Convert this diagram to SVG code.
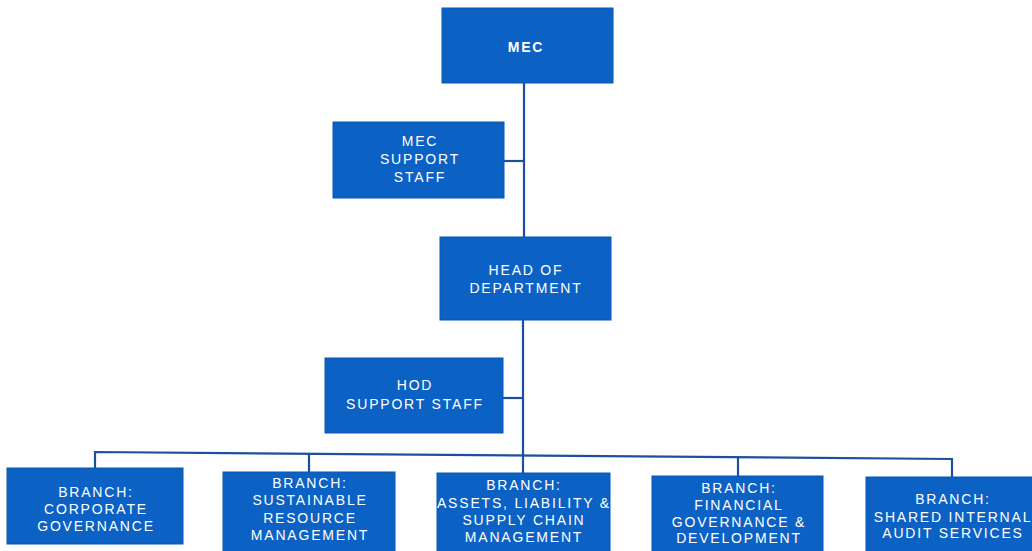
<svg xmlns="http://www.w3.org/2000/svg" width="1032" height="551" viewBox="0 0 1032 551">
<style>
.box{fill:#0b62c4;stroke:#0a57ad;stroke-width:1}
.t{font-family:"Liberation Sans",Arial,sans-serif;font-size:14px;fill:#ffffff;text-anchor:middle;letter-spacing:1.8px}
.b{font-weight:bold}
.c{fill:none;stroke:#1d4f9c;stroke-width:2.2}
</style>
<rect width="1032" height="551" fill="#ffffff"/>
<g id="connectors">
<path class="c" d="M524 83 V237"/>
<path class="c" d="M504 161 H524"/>
<path class="c" d="M523 320 V455"/>
<path class="c" d="M503 398 H523"/>
<path class="c" d="M95 468 V452 L952 459 V477"/>
<path class="c" d="M309 453 V472"/>
<path class="c" d="M523 455 V473"/>
<path class="c" d="M738 457 V476"/>
</g>
<g id="mec">
<rect class="box" x="442" y="8" width="171" height="75"/>
<text class="t b" x="526" y="52">MEC</text>
</g>
<g id="mec-support">
<rect class="box" x="333" y="122" width="171" height="76"/>
<text class="t" x="420" y="146">MEC</text>
<text class="t" x="420" y="164">SUPPORT</text>
<text class="t" x="420" y="182">STAFF</text>
</g>
<g id="hod">
<rect class="box" x="440" y="237" width="171" height="83"/>
<text class="t" x="526" y="275">HEAD OF</text>
<text class="t" x="526" y="293">DEPARTMENT</text>
</g>
<g id="hod-support">
<rect class="box" x="325" y="358" width="178" height="75"/>
<text class="t" x="415" y="390">HOD</text>
<text class="t" x="415" y="409">SUPPORT STAFF</text>
</g>
<g id="branch-corporate">
<rect class="box" x="7" y="468" width="176" height="76"/>
<text class="t" x="96" y="497">BRANCH:</text>
<text class="t" x="96" y="514">CORPORATE</text>
<text class="t" x="96" y="531">GOVERNANCE</text>
</g>
<g id="branch-sustainable">
<rect class="box" x="223" y="472" width="172" height="82"/>
<text class="t" x="310" y="488">BRANCH:</text>
<text class="t" x="310" y="505">SUSTAINABLE</text>
<text class="t" x="310" y="523">RESOURCE</text>
<text class="t" x="310" y="540">MANAGEMENT</text>
</g>
<g id="branch-assets">
<rect class="box" x="437" y="473" width="173" height="82"/>
<text class="t" x="524" y="490">BRANCH:</text>
<text class="t" x="524" y="508">ASSETS, LIABILITY &amp;</text>
<text class="t" x="524" y="525">SUPPLY CHAIN</text>
<text class="t" x="524" y="542">MANAGEMENT</text>
</g>
<g id="branch-financial">
<rect class="box" x="652" y="476" width="171" height="80"/>
<text class="t" x="739" y="493">BRANCH:</text>
<text class="t" x="739" y="510">FINANCIAL</text>
<text class="t" x="739" y="527">GOVERNANCE &amp;</text>
<text class="t" x="739" y="543">DEVELOPMENT</text>
</g>
<g id="branch-audit">
<rect class="box" x="866" y="477" width="170" height="80"/>
<text class="t" x="953" y="504">BRANCH:</text>
<text class="t" x="953" y="522">SHARED INTERNAL</text>
<text class="t" x="953" y="538">AUDIT SERVICES</text>
</g>
</svg>
